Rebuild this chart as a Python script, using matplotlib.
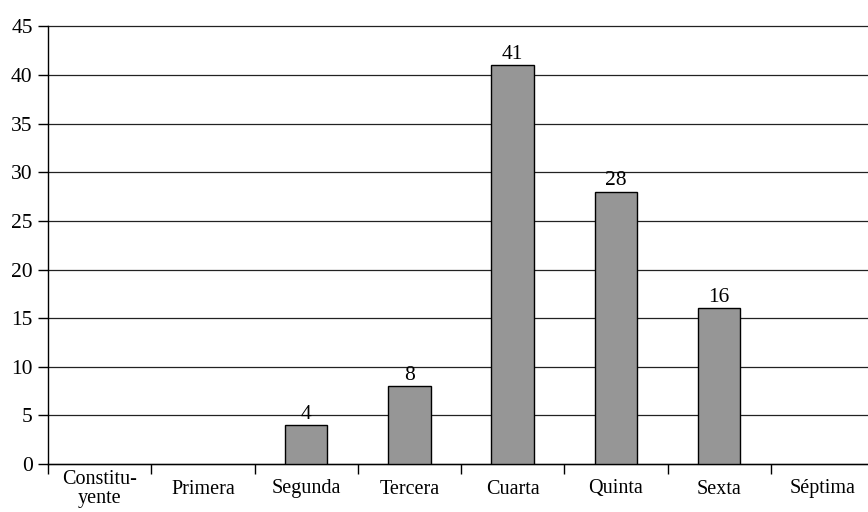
import matplotlib.pyplot as plt

plt.rcParams["font.family"] = ["Liberation Serif", "DejaVu Serif"]

categorias = ["Constitu-\nyente", "Primera", "Segunda", "Tercera", "Cuarta", "Quinta", "Sexta", "Séptima"]
valores = [0, 0, 4, 8, 41, 28, 16, 0]
y_ticks = [0, 5, 10, 15, 20, 25, 30, 35, 40, 45]

COLOR_BARRA = "#969696"
COLOR_INK = "#000000"

fig = plt.figure(figsize=(8.68, 5.12), dpi=100)
ax = fig.add_axes([48 / 868, 48 / 512, 826 / 868, 437.5 / 512])

x = list(range(len(categorias)))
barras = ax.bar(x, valores, width=0.41, color=COLOR_BARRA, edgecolor=COLOR_INK,
                linewidth=[1 if v > 0 else 0 for v in valores], zorder=3)

for barra, valor in zip(barras, valores):
    if valor > 0:
        ax.annotate(f"{valor}", (barra.get_x() + barra.get_width() / 2, valor),
                    xytext=(0, 1), textcoords="offset points",
                    ha="center", va="bottom", fontsize=15.5, color=COLOR_INK)

ax.set_xlim(-0.5, 7.5)
ax.set_ylim(0, 45)
ax.set_yticks(y_ticks)
ax.tick_params(axis="y", length=7, width=1, labelsize=15.5, pad=4, colors=COLOR_INK)
ax.yaxis.grid(True, color="#222222", linewidth=0.9)
for linea in ax.get_ygridlines():
    linea.set_clip_on(False)
ax.set_axisbelow(True)

# ticks del eje x en los límites entre categorías, etiquetas centradas
ax.set_xticks([i - 0.5 for i in range(len(categorias))])
ax.set_xticklabels([])
ax.set_xticks(x, minor=True)
ax.set_xticklabels(categorias, minor=True, fontsize=14.5, linespacing=1.0, va="center")
ax.tick_params(axis="x", which="major", length=7, width=1, colors=COLOR_INK)
ax.tick_params(axis="x", which="minor", length=0, pad=18)

for lado in ["top", "right"]:
    ax.spines[lado].set_visible(False)
ax.spines["left"].set_linewidth(1)
ax.spines["bottom"].set_linewidth(1)

fig.savefig("out.png", dpi=100)
